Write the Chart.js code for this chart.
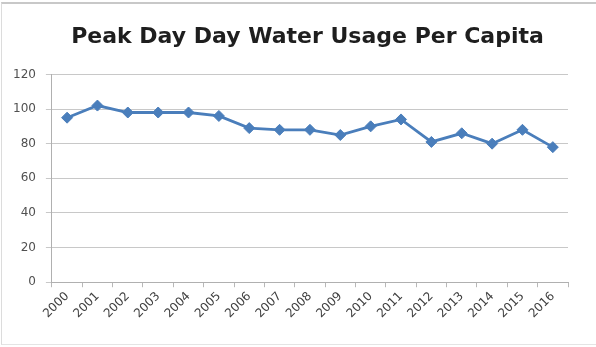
<!DOCTYPE html>
<html>
<head>
<meta charset="utf-8">
<script src="https://cdn.jsdelivr.net/npm/chart.js@4"></script>
<style>
  html, body { margin: 0; padding: 0; background: #fff; }
  #wrap {
    position: absolute; left: 1px; top: 2px; width: 600px; height: 343px;
    border-top: 2px solid #c8c8c8; border-left: 1px solid #dcdcdc; border-bottom: 1px solid #e4e4e4;
    box-sizing: border-box; background: #fff;
  }
  canvas { position: absolute; left: -1px; top: -4px; }
</style>
</head>
<body>
<div id="wrap"><canvas id="c" width="596" height="347"></canvas></div>
<script>
const years = ['2000','2001','2002','2003','2004','2005','2006','2007','2008',
               '2009','2010','2011','2012','2013','2014','2015','2016'];
const usagePerCapita = [95, 102, 98, 98, 98, 96, 89, 88, 88, 85, 90, 94, 81, 86, 80, 88, 78];
const yTicks = [0, 20, 40, 60, 80, 100, 120];

const lineBlue = '#4a7ebb';

// Center the title over the plot column rather than the whole canvas
const titleOverPlot = {
  id: 'titleOverPlot',
  afterLayout(chart) {
    const t = chart.titleBlock;
    if (t) { t.left = 46; t.right = 567; t.width = t.right - t.left; }
  }
};

new Chart(document.getElementById('c'), {
  type: 'line',
  data: {
    labels: years,
    datasets: [{
      label: 'Peak Day Water Usage Per Capita',
      data: usagePerCapita,
      borderColor: lineBlue,
      backgroundColor: lineBlue,
      borderWidth: 2.8,
      tension: 0,
      pointStyle: 'rectRot',
      pointRadius: 5.5,
      pointHoverRadius: 5.5,
      pointBorderWidth: 1,
      pointBorderColor: lineBlue,
      pointBackgroundColor: lineBlue
    }]
  },
  options: {
    responsive: false,
    animation: false,
    layout: { padding: { left: 2, right: 29, top: 24, bottom: 24 } },
    plugins: {
      legend: { display: false },
      tooltip: { enabled: false },
      title: {
        display: true,
        text: 'Peak Day Day Water Usage Per Capita',
        color: '#1e1e1e',
        font: { family: 'DejaVu Sans', size: 22, weight: 'bold' },
        padding: { top: 0, bottom: 24 }
      }
    },
    scales: {
      x: {
        offset: true,
        grid: {
          display: true,
          offset: true,
          drawOnChartArea: false,
          drawTicks: true,
          tickLength: 5,
          color: '#b8b8b8'
        },
        border: { display: true, color: '#b0b0b0', width: 1 },
        ticks: {
          color: '#404040',
          font: { family: 'DejaVu Sans', size: 12 },
          minRotation: 45,
          maxRotation: 45,
          padding: 2,
          autoSkip: false
        }
      },
      y: {
        min: 0,
        max: 120,
        afterBuildTicks: axis => { axis.ticks = yTicks.map(v => ({ value: v })); },
        grid: {
          color: '#c8c8c8',
          lineWidth: 1,
          tickLength: 6
        },
        border: { display: true, color: '#b0b0b0', width: 1 },
        ticks: {
          color: '#505050',
          font: { family: 'DejaVu Sans', size: 12 },
          padding: 10
        }
      }
    }
  },
  plugins: [titleOverPlot]
});
</script>
</body>
</html>
